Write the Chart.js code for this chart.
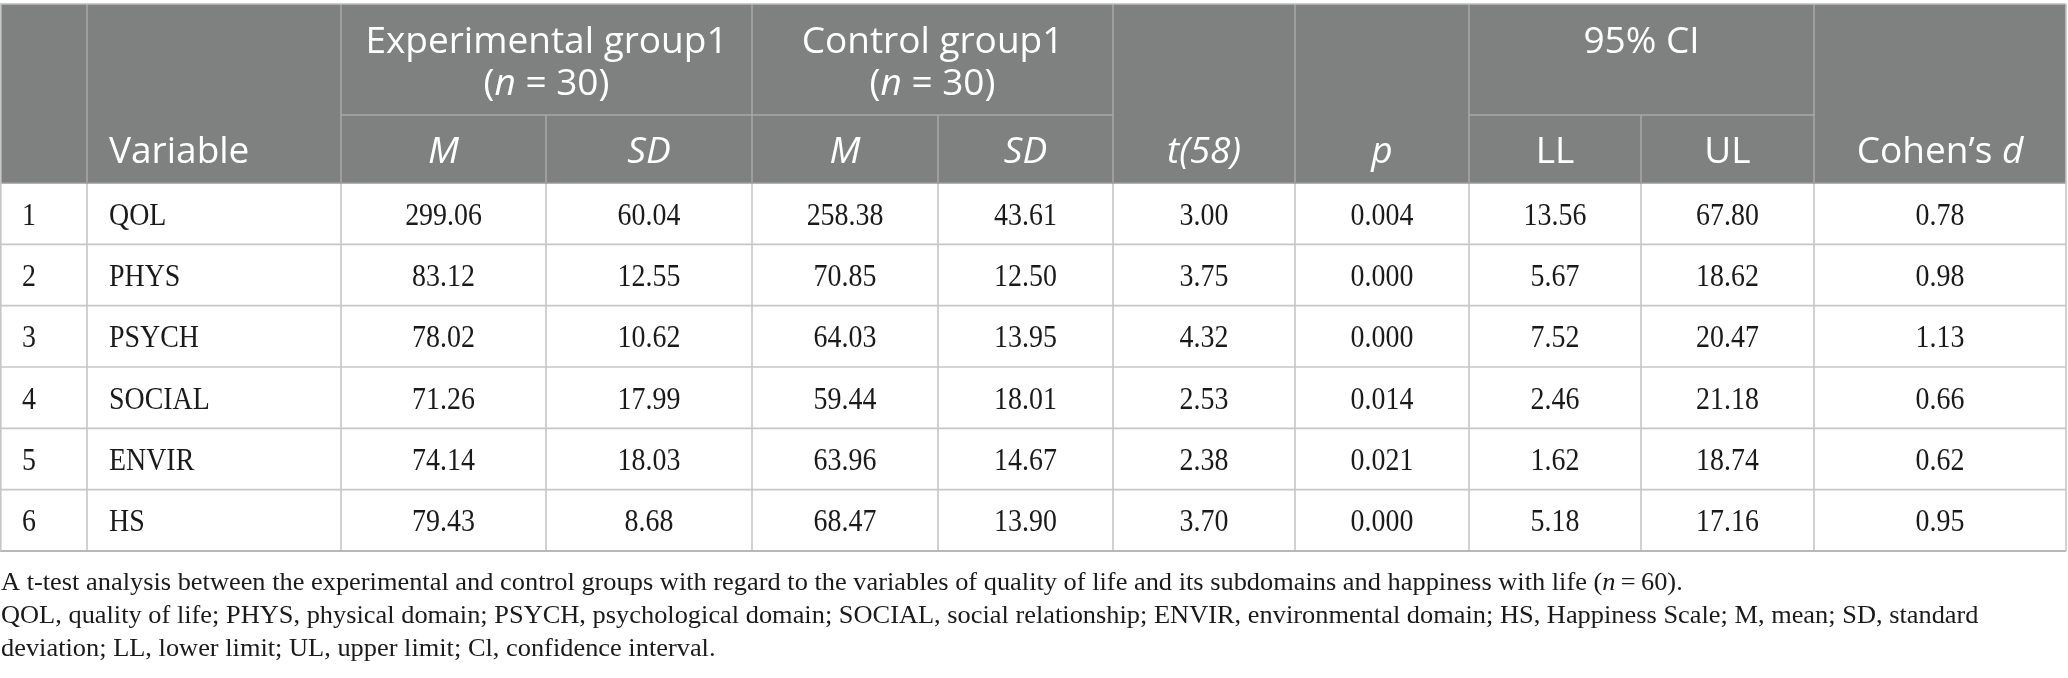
<!DOCTYPE html>
<html>
<head>
<meta charset="utf-8">
<script src="https://cdn.jsdelivr.net/npm/chart.js@4.4.0/dist/chart.umd.min.js"></script>
<style>
  html, body { margin: 0; padding: 0; background: #fff; }
  #wrap { width: 2068px; height: 678px; position: relative; }
</style>
</head>
<body>
<div id="wrap"><canvas id="tableChart"></canvas></div>
<script>
// table data
const rowNumbers = ["1", "2", "3", "4", "5", "6"];
const variables = ["QOL", "PHYS", "PSYCH", "SOCIAL", "ENVIR", "HS"];
const expM = [299.06, 83.12, 78.02, 71.26, 74.14, 79.43];
const expSD = [60.04, 12.55, 10.62, 17.99, 18.03, 8.68];
const ctrlM = [258.38, 70.85, 64.03, 59.44, 63.96, 68.47];
const ctrlSD = [43.61, 12.5, 13.95, 18.01, 14.67, 13.9];
const tValues = [3.0, 3.75, 4.32, 2.53, 2.38, 3.7];
const pValues = [0.004, 0.0, 0.0, 0.014, 0.021, 0.0];
const ciLL = [13.56, 5.67, 7.52, 2.46, 1.62, 5.18];
const ciUL = [67.8, 18.62, 20.47, 21.18, 18.74, 17.16];
const cohenD = [0.78, 0.98, 1.13, 0.66, 0.62, 0.95];

// header labels (*...* = italic)
const variableLabel = "Variable";
const groupLabels = ["Experimental group1", "Control group1"];
const groupN = [30, 30];
const statLabels = ["*M*", "*SD*"];
const tLabel = "*t(58)*";
const pLabel = "*p*";
const ciLabel = "95% CI";
const ciLabels = ["LL", "UL"];
const effectLabel = "Cohen\u2019s *d*";

const notes = [
  "A t-test analysis between the experimental and control groups with regard to the variables of quality of life and its subdomains and happiness with life (*n*\u2009=\u200960).",
  "QOL, quality of life; PHYS, physical domain; PSYCH, psychological domain; SOCIAL, social relationship; ENVIR, environmental domain; HS, Happiness Scale; M, mean; SD, standard",
  "deviation; LL, lower limit; UL, upper limit; Cl, confidence interval."
];

// layout (x units on the hidden linear scale)
const COL_EDGES = [0, 87, 341, 546, 752, 938, 1113, 1295, 1469, 1641, 1814, 2066];
const HEAD_FONT = "'Open Sans'";
const BODY_FONT = "'Liberation Serif'";
const HEAD_BG = "#7f8080";
const HEAD_LINE = "#a8a8a8";
const BODY_LINE = "#c6c6c6";

const bodyColumns = [expM, expSD, ctrlM, ctrlSD, tValues, pValues, ciLL, ciUL, cohenD];
const decimals = [2, 2, 2, 2, 2, 3, 2, 2, 2];

function parseRich(str) {
  return str.split("*").map((t, i) => ({ t: t, i: i % 2 === 1 })).filter(s => s.t.length);
}

function drawText(ctx, str, x, y, align, size, family, sx, color) {
  const segs = parseRich(str);
  ctx.save();
  ctx.fillStyle = color;
  ctx.textBaseline = "alphabetic";
  ctx.textAlign = "left";
  let w = 0;
  segs.forEach(s => {
    ctx.font = (s.i ? "italic " : "") + size + "px " + family;
    s.w = ctx.measureText(s.t).width;
    w += s.w;
  });
  let start = x;
  if (align === "center") start = x - w * sx / 2;
  if (align === "right") start = x - w * sx;
  ctx.translate(start, y);
  ctx.scale(sx, 1);
  let cx = 0;
  segs.forEach(s => {
    ctx.font = (s.i ? "italic " : "") + size + "px " + family;
    ctx.fillText(s.t, cx, 0);
    cx += s.w;
  });
  ctx.restore();
}

function line(ctx, x1, y1, x2, y2, color, width) {
  ctx.beginPath();
  ctx.strokeStyle = color;
  ctx.lineWidth = width;
  ctx.moveTo(x1, y1);
  ctx.lineTo(x2, y2);
  ctx.stroke();
}

const tablePlugin = {
  id: "tableCells",
  afterDraw(chart) {
    const { ctx, scales } = chart;
    const x = scales.x, y = scales.y;
    const xs = COL_EDGES.map(v => x.getPixelForValue(v));
    const band = y.getPixelForValue(1) - y.getPixelForValue(0);
    const bodyTop = y.getPixelForValue(0) - band / 2;
    const bodyBottom = y.getPixelForValue(rowNumbers.length - 1) + band / 2;
    const headTop = bodyTop - 179;
    const headSplit = bodyTop - 68;
    const left = xs[0], right = xs[xs.length - 1];
    const mid = (a, b) => (xs[a] + xs[b]) / 2;

    ctx.save();
    // header background
    ctx.fillStyle = HEAD_BG;
    ctx.fillRect(left, headTop, right - left, bodyTop - headTop);

    // header grid: split line under grouped columns
    [[2, 6], [8, 10]].forEach(([a, b]) => line(ctx, xs[a], headSplit, xs[b], headSplit, HEAD_LINE, 1.5));
    // vertical lines in header
    [1, 2, 4, 6, 7, 8, 10].forEach(c => line(ctx, xs[c], headTop, xs[c], bodyTop, HEAD_LINE, 1.5));
    [3, 5, 9].forEach(c => line(ctx, xs[c], headSplit, xs[c], bodyTop, HEAD_LINE, 1.5));

    // header text
    const hs = 37, white = "#ffffff";
    const b1 = bodyTop - 130, b2 = bodyTop - 88, bSub = bodyTop - 20;
    drawText(ctx, variableLabel, xs[1] + 22, bSub, "left", hs, HEAD_FONT, 1, white);
    groupLabels.forEach((g, k) => {
      const a = 2 + k * 2;
      drawText(ctx, g, mid(a, a + 2), b1, "center", hs, HEAD_FONT, 1, white);
      drawText(ctx, "(*n* = " + groupN[k] + ")", mid(a, a + 2), b2, "center", hs, HEAD_FONT, 1, white);
      statLabels.forEach((s, j) => drawText(ctx, s, mid(a + j, a + j + 1), bSub, "center", hs, HEAD_FONT, 1, white));
    });
    drawText(ctx, tLabel, mid(6, 7), bSub, "center", hs, HEAD_FONT, 1, white);
    drawText(ctx, pLabel, mid(7, 8), bSub, "center", hs, HEAD_FONT, 1, white);
    drawText(ctx, ciLabel, mid(8, 10), b1, "center", hs, HEAD_FONT, 1, white);
    ciLabels.forEach((s, j) => drawText(ctx, s, mid(8 + j, 9 + j), bSub, "center", hs, HEAD_FONT, 1, white));
    drawText(ctx, effectLabel, mid(10, 11), bSub, "center", hs, HEAD_FONT, 1, white);

    // body grid
    rowNumbers.forEach((r, i) => {
      const yb = y.getPixelForValue(i) + band / 2;
      if (i < rowNumbers.length - 1) line(ctx, left, yb, right, yb, BODY_LINE, 1.6);
    });
    xs.forEach((xv, c) => {
      if (c > 0 && c < xs.length - 1) line(ctx, xv, bodyTop, xv, bodyBottom, BODY_LINE, 1.6);
    });
    // outer border
    line(ctx, left, headTop, right, headTop, "#bdbdbd", 1.6);
    line(ctx, left, bodyTop, right, bodyTop, "#9a9a9a", 1.6);
    line(ctx, left, bodyBottom, right, bodyBottom, "#b8b8b8", 2.2);
    line(ctx, left + 0.8, headTop, left + 0.8, bodyBottom, "#c6c6c6", 1.6);
    line(ctx, right, headTop, right, bodyBottom, "#c6c6c6", 1.6);

    // body text
    const bs = 31, bsx = 0.9, ink = "#1a1a1a";
    rowNumbers.forEach((r, i) => {
      const base = y.getPixelForValue(i) + 11;
      drawText(ctx, r, xs[0] + 22, base, "left", bs, BODY_FONT, bsx, ink);
      drawText(ctx, variables[i], xs[1] + 22, base, "left", bs, BODY_FONT, bsx, ink);
      bodyColumns.forEach((col, c) => {
        drawText(ctx, col[i].toFixed(decimals[c]), mid(c + 2, c + 3), base, "center", bs, BODY_FONT, bsx, ink);
      });
    });

    // notes
    notes.forEach((n, k) => {
      drawText(ctx, n, left + 1, bodyBottom + 39 + k * 33, "left", 26, BODY_FONT, 1.015, "#1a1a1a");
    });
    ctx.restore();
  }
};

function build() {
  new Chart(document.getElementById("tableChart"), {
    type: "bar",
    data: { labels: rowNumbers, datasets: [] },
    options: {
      indexAxis: "y",
      responsive: true,
      maintainAspectRatio: false,
      animation: false,
      layout: { padding: { top: 183, bottom: 127, left: 0, right: 2 } },
      plugins: { legend: { display: false }, tooltip: { enabled: false }, title: { display: false } },
      scales: {
        x: { type: "linear", min: 0, max: COL_EDGES[COL_EDGES.length - 1], display: false },
        y: { type: "category", offset: true, display: false }
      }
    },
    plugins: [tablePlugin]
  });
}

const fontLoads = [
  "37px 'Open Sans'", "italic 37px 'Open Sans'",
  "31px 'Liberation Serif'", "italic 26px 'Liberation Serif'"
].map(f => document.fonts.load(f));
Promise.all(fontLoads).then(build, build);
</script>
</body>
</html>
